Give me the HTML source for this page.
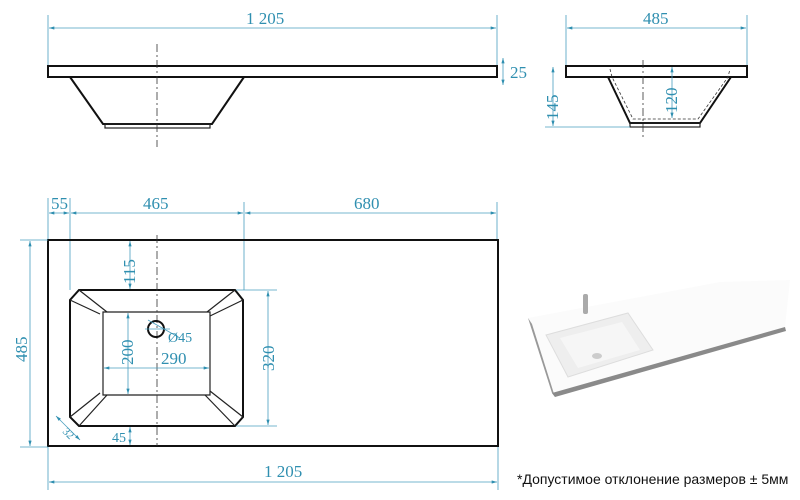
<!DOCTYPE html>
<html><head><meta charset="utf-8"><style>
html,body{margin:0;padding:0;background:#fff;width:800px;height:500px;overflow:hidden}
svg{display:block}
.d{stroke:#4a9fbf;stroke-width:0.8;fill:none}
.t{fill:#2f8fb0;font-family:"Liberation Serif",serif;font-size:17px}
.k{stroke:#111;stroke-width:2;fill:none}
.k1{stroke:#222;stroke-width:1.2;fill:none}
.c{stroke:#333;stroke-width:0.8;stroke-dasharray:8,3,2,3;fill:none}
</style></head><body>
<svg width="800" height="500" viewBox="0 0 800 500">
<defs>
<marker id="a" viewBox="0 0 10 6" refX="10" refY="3" markerWidth="7" markerHeight="4" orient="auto-start-reverse"><path d="M0,0L10,3L0,6z" fill="#2f8fb0"/></marker>
</defs>
<!-- TOP FRONT VIEW -->
<line class="d" x1="48" y1="15" x2="48" y2="66"/><line class="d" x1="497" y1="15" x2="497" y2="66"/>
<line class="d" x1="49" y1="28" x2="496" y2="28" marker-start="url(#a)" marker-end="url(#a)"/>
<text class="t" x="246" y="24">1 205</text>
<rect class="k" x="48" y="66" width="449" height="11"/>
<polyline class="k" points="70,77 103,124 212,124 244,77"/>
<rect class="k1" x="105" y="124" width="105" height="4"/>
<line class="c" x1="157" y1="44" x2="157" y2="147"/>
<line class="d" x1="503" y1="58" x2="503" y2="85" marker-start="url(#a)" marker-end="url(#a)"/>
<text class="t" x="510" y="78">25</text>
<!-- SIDE VIEW -->
<line class="d" x1="566" y1="15" x2="566" y2="66"/><line class="d" x1="747" y1="15" x2="747" y2="66"/>
<line class="d" x1="567" y1="28" x2="746" y2="28" marker-start="url(#a)" marker-end="url(#a)"/>
<text class="t" x="643" y="24">485</text>
<rect class="k" x="566" y="66" width="181" height="11"/>
<polyline class="k" points="608,77 630,123 700,123 731,77"/>
<rect class="k1" x="630" y="123" width="70" height="4"/>
<polyline points="610,69 612,77 633,119 698,119 728,77 730,69" fill="none" stroke="#333" stroke-width="0.8" stroke-dasharray="3,2"/>
<line class="c" x1="643" y1="60" x2="643" y2="137"/>
<line class="d" x1="545" y1="127" x2="630" y2="127"/>
<line class="d" x1="553" y1="67" x2="553" y2="126" marker-start="url(#a)" marker-end="url(#a)"/>
<text class="t" transform="translate(558,120) rotate(-90)">145</text>
<line class="d" x1="672" y1="67" x2="672" y2="118" marker-start="url(#a)" marker-end="url(#a)"/>
<text class="t" transform="translate(677,113) rotate(-90)">120</text>
<!-- PLAN -->
<line class="d" x1="48" y1="198" x2="48" y2="240"/><line class="d" x1="70" y1="198" x2="70" y2="290"/>
<line class="d" x1="244" y1="202" x2="244" y2="290"/><line class="d" x1="497" y1="202" x2="497" y2="240"/>
<line class="d" x1="49" y1="213" x2="69" y2="213" marker-start="url(#a)" marker-end="url(#a)"/>
<line class="d" x1="71" y1="213" x2="243" y2="213" marker-start="url(#a)" marker-end="url(#a)"/>
<line class="d" x1="245" y1="213" x2="496" y2="213" marker-start="url(#a)" marker-end="url(#a)"/>
<text class="t" x="51" y="209">55</text>
<text class="t" x="143" y="209">465</text>
<text class="t" x="354" y="209">680</text>
<rect class="k" x="48" y="240" width="450" height="206"/>
<line class="d" x1="20" y1="240" x2="48" y2="240"/><line class="d" x1="20" y1="447" x2="48" y2="447"/>
<line class="d" x1="30" y1="241" x2="30" y2="446" marker-start="url(#a)" marker-end="url(#a)"/>
<text class="t" transform="translate(27,362) rotate(-90)">485</text>
<polygon class="k" points="79,290 235,290 243,300 243,417 235,426 79,426 70,417 70,300"/>
<polygon class="k1" points="103,312 210,312 210,395 103,395"/>
<g class="k1"><line x1="79" y1="290" x2="107" y2="312"/><line x1="70" y1="300" x2="100" y2="314"/>
<line x1="235" y1="290" x2="207" y2="312"/><line x1="243" y1="300" x2="210" y2="316"/>
<line x1="70" y1="417" x2="100" y2="393"/><line x1="79" y1="426" x2="107" y2="395"/>
<line x1="243" y1="417" x2="210" y2="391"/><line x1="235" y1="426" x2="205" y2="395"/></g>
<line class="c" x1="157" y1="235" x2="157" y2="446"/>
<circle cx="156" cy="329" r="8" fill="none" stroke="#111" stroke-width="2"/>
<line class="d" x1="145" y1="329" x2="170" y2="329"/>
<line class="d" x1="148" y1="320" x2="180" y2="338"/>
<text class="t" x="168" y="342" style="font-size:14px">Ø45</text>
<line class="d" x1="130" y1="241" x2="130" y2="289" marker-start="url(#a)" marker-end="url(#a)"/>
<text class="t" transform="translate(135,284) rotate(-90)">115</text>
<line class="d" x1="128" y1="313" x2="128" y2="394" marker-start="url(#a)" marker-end="url(#a)"/>
<text class="t" transform="translate(133,365) rotate(-90)">200</text>
<line class="d" x1="104" y1="368" x2="209" y2="368" marker-start="url(#a)" marker-end="url(#a)"/>
<text class="t" x="161" y="364">290</text>
<line class="d" x1="236" y1="290" x2="277" y2="290"/><line class="d" x1="236" y1="426" x2="277" y2="426"/>
<line class="d" x1="268" y1="291" x2="268" y2="425" marker-start="url(#a)" marker-end="url(#a)"/>
<text class="t" transform="translate(274,371) rotate(-90)">320</text>
<line class="d" x1="130" y1="427" x2="130" y2="445" marker-start="url(#a)" marker-end="url(#a)"/>
<text class="t" x="112" y="442" style="font-size:14px">45</text>
<line class="d" x1="56" y1="416" x2="80" y2="440" marker-start="url(#a)" marker-end="url(#a)"/>
<text class="t" transform="translate(62,432) rotate(45)" style="font-size:11px">32</text>
<line class="d" x1="48" y1="447" x2="48" y2="490"/><line class="d" x1="498" y1="447" x2="498" y2="490"/>
<line class="d" x1="49" y1="482" x2="497" y2="482" marker-start="url(#a)" marker-end="url(#a)"/>
<text class="t" x="264" y="477">1 205</text>
<!-- PHOTO -->
<polygon points="528,318 720,282 790,280 785,327 552,393" fill="#fbfbfb"/>
<polygon points="528,318 552,393 555,397 532,324" fill="#999"/>
<polygon points="552,393 785,327 786,331 555,397" fill="#8a8a8a"/>
<polygon points="546,335 628,313 653,350 568,377" fill="#eeeeee" stroke="#ddd"/>
<polygon points="560,338 622,322 640,350 578,368" fill="#f6f6f6"/>
<ellipse cx="597" cy="356" rx="5" ry="3" fill="#ccc"/>
<rect x="583" y="294" width="5" height="20" rx="2" fill="#aaa"/>
<text x="517" y="484" style="font-family:'Liberation Sans',sans-serif;font-size:14px;fill:#111">*Допустимое отклонение размеров ± 5мм</text>
</svg>
</body></html>
